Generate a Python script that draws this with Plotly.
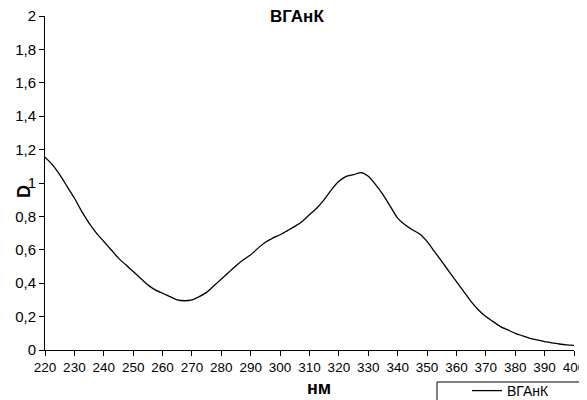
import plotly.graph_objects as go

wavelength_nm = [220, 222.5, 225, 227.5, 230, 232.5, 235, 237.5, 240, 242.5, 245, 247.5,
                 250, 252.5, 255, 257.5, 260, 262.5, 265, 267.5, 270, 272.5, 275, 277.5,
                 280, 282.5, 285, 287.5, 290, 292.5, 295, 297.5, 300, 302.5, 305, 307.5,
                 310, 312.5, 315, 317.5, 320, 322.5, 325, 327.5, 330, 332.5, 335, 337.5,
                 340, 342.5, 345, 347.5, 350, 352.5, 355, 357.5, 360, 362.5, 365, 367.5,
                 370, 372.5, 375, 377.5, 380, 382.5, 385, 387.5, 390, 392.5, 395, 397.5, 400]
absorbance_D = [1.155, 1.11, 1.05, 0.98, 0.91, 0.83, 0.76, 0.70, 0.65, 0.60, 0.55, 0.51,
                0.47, 0.43, 0.39, 0.36, 0.34, 0.32, 0.30, 0.295, 0.30, 0.32, 0.345, 0.385,
                0.425, 0.465, 0.505, 0.54, 0.57, 0.61, 0.645, 0.67, 0.69, 0.715, 0.74, 0.77,
                0.81, 0.85, 0.90, 0.96, 1.01, 1.04, 1.05, 1.062, 1.04, 0.99, 0.93, 0.86,
                0.79, 0.75, 0.72, 0.695, 0.65, 0.59, 0.53, 0.47, 0.41, 0.35, 0.29, 0.24,
                0.20, 0.17, 0.14, 0.12, 0.10, 0.085, 0.07, 0.06, 0.05, 0.043, 0.036, 0.031, 0.028]

x_ticks = list(range(220, 401, 10))
y_ticks = [0, 0.2, 0.4, 0.6, 0.8, 1, 1.2, 1.4, 1.6, 1.8, 2]
y_tick_labels = ["0", "0,2", "0,4", "0,6", "0,8", "1", "1,2", "1,4", "1,6", "1,8", "2"]

series_name = "ВГАнК"
title_text = "ВГАнК"
x_title = "нм"
y_title = "D"

# the page body adds an 8px offset; work in screenshot pixels and convert
OFF = 8
W, H = 587 - OFF, 400 - OFF
PL, PR, PT, PB = 45, 574, 16, 350  # plot area edges in screenshot pixels
ML, MR, MT, MB = PL - OFF, W - (PR - OFF), PT - OFF, H - (PB - OFF)
PW, PH = PR - PL, PB - PT


def px(sx):
    return (sx - PL) / PW


def py(sy):
    return (PB - sy) / PH


fig = go.Figure()
fig.add_trace(go.Scatter(x=wavelength_nm, y=absorbance_D, mode="lines", name=series_name,
                         line=dict(color="black", width=1.3, shape="spline", smoothing=0.6)))

font_family = "Liberation Sans, Arial, sans-serif"

fig.update_layout(
    width=W, height=H,
    margin=dict(l=ML, r=MR, t=MT, b=MB, autoexpand=False),
    paper_bgcolor="white", plot_bgcolor="white",
    font=dict(family=font_family, color="black", size=14),
    showlegend=True,
    legend=dict(xref="paper", yref="paper", x=px(467), y=py(375),
                xanchor="left", yanchor="top", bgcolor="rgba(0,0,0,0)",
                borderwidth=0, font=dict(size=14, family=font_family),
                tracegroupgap=0, itemwidth=30),
    xaxis=dict(range=[220, 400], tickmode="array", tickvals=x_ticks,
               showline=True, linecolor="black", linewidth=1,
               ticks="outside", ticklen=5, tickcolor="black", tickwidth=1,
               showgrid=False, zeroline=False, ticklabeloverflow="allow",
               tickfont=dict(size=13.5, family=font_family)),
    yaxis=dict(range=[0, 2], tickmode="array", tickvals=y_ticks, ticktext=y_tick_labels,
               showline=True, linecolor="black", linewidth=1,
               ticks="outside", ticklen=5, tickcolor="black", tickwidth=1,
               showgrid=False, zeroline=False, ticklabeloverflow="allow",
               tickfont=dict(size=15, family=font_family)),
    annotations=[
        dict(text="<b>%s</b>" % title_text, xref="paper", yref="paper",
             x=px(297), y=py(16), xanchor="center", yanchor="middle", showarrow=False,
             font=dict(size=17, family=font_family)),
        dict(text="<b>%s</b>" % x_title, xref="paper", yref="paper",
             x=px(319), y=py(388), xanchor="center", yanchor="middle", showarrow=False,
             font=dict(size=18, family=font_family)),
        dict(text="<b>%s</b>" % y_title, xref="paper", yref="paper",
             x=px(24), y=py(192), xanchor="center", yanchor="middle", showarrow=False,
             textangle=-90, font=dict(size=18, family=font_family)),
    ],
    shapes=[
        dict(type="rect", xref="paper", yref="paper",
             x0=px(437), x1=px(610), y0=py(382), y1=py(420),
             line=dict(color="black", width=1), fillcolor="rgba(0,0,0,0)", layer="above"),
    ],
)

fig.write_html("out.html")
